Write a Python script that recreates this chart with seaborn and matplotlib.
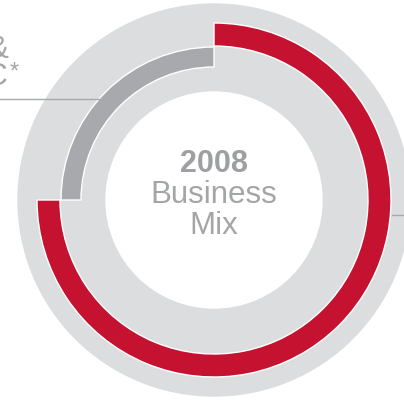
import matplotlib
matplotlib.use("Agg")
import matplotlib.pyplot as plt
import seaborn as sns
from matplotlib.patches import Circle

# business mix shares (percent)
segments = ["Other", "P&C"]
outer_share = [75, 25]   # red ring
inner_share = [75, 25]   # grey ring
year = "2008"

RED = "#C41230"
MID_GREY = "#A7A9AC"
LIGHT_GREY = "#DCDDDE"
TEXT_GREY = "#A3A5A8"

sns.set_theme(style="white")
plt.rcParams["font.family"] = ["Liberation Sans", "DejaVu Sans"]

fig = plt.figure(figsize=(4.04, 4.0), dpi=100)
ax = fig.add_axes([0, 0, 1, 1])

cx, cy = 214, 200

# big light backdrop disc
ax.add_patch(Circle((cx, cy), 196, color=LIGHT_GREY, zorder=0))

outer, _ = ax.pie(outer_share, colors=[RED, "none"], startangle=90, counterclock=False,
                  center=(cx, cy), radius=177,
                  wedgeprops=dict(width=23, edgecolor="white", linewidth=1.0))
inner, _ = ax.pie(inner_share, colors=["none", MID_GREY], startangle=90, counterclock=False,
                  center=(cx, cy), radius=153,
                  wedgeprops=dict(width=20, edgecolor="white", linewidth=1.0))
# only the coloured arcs get the thin white rim
outer[1].set_linewidth(0)
inner[0].set_linewidth(0)

# white hub
ax.add_patch(Circle((cx, cy), 108, color="white", zorder=3))

ax.text(cx, 228, year, ha="center", va="baseline", fontsize=22, fontweight="bold",
        color="#9D9FA2", zorder=4)
ax.text(cx, 197, "Business", ha="center", va="baseline", fontsize=22.5,
        color=TEXT_GREY, zorder=4)
ax.text(cx, 166, "Mix", ha="center", va="baseline", fontsize=22.5,
        color=TEXT_GREY, zorder=4)

# cut-off callouts
ax.text(9, 342, "Life &", ha="right", va="baseline", fontsize=22,
        color=TEXT_GREY, zorder=4)
ax.text(8, 315, "P&C", ha="right", va="baseline", fontsize=23,
        color=TEXT_GREY, zorder=4)
ax.text(14, 327, "*", ha="center", va="center", fontsize=17,
        color=TEXT_GREY, zorder=4)
ax.plot([0, 99], [301, 301], color=MID_GREY, lw=1, zorder=4)
ax.plot([392, 404], [185, 185], color=MID_GREY, lw=1, zorder=4)

ax.set_xlim(0, 404)
ax.set_ylim(0, 400)
ax.set_aspect("auto")
ax.axis("off")

fig.savefig("out.png", dpi=100)
